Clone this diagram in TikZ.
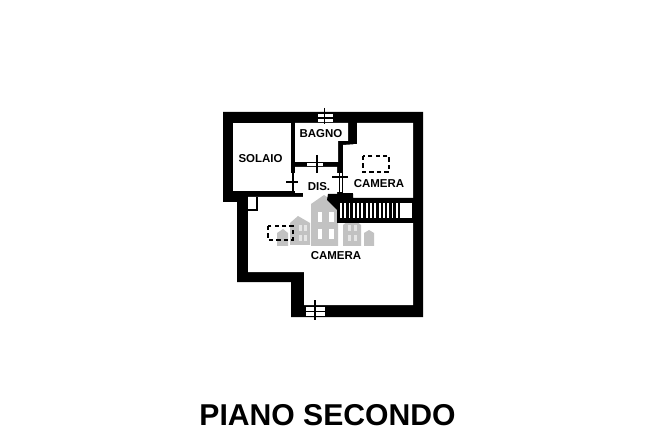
\documentclass[tikz,border=0pt]{standalone}
\usepackage{fontspec}
\setmainfont{Liberation Sans}
\tikzset{
  room/.style={fill=white},
  wall/.style={fill=black},
  house/.style={fill=black!24},
  pane/.style={fill=white},
  softpane/.style={fill=black!10},
  hatch/.style={black,line width=1pt},
  tread/.style={black,line width=1.8pt},
  skylight/.style={black,line width=1.2pt,dash pattern=on 3.2pt off 2.4pt},
  roomlabel/.style={font=\bfseries\fontsize{8.6}{10}\selectfont},
}
\begin{document}
\begin{tikzpicture}[x=0.75pt,y=0.75pt]
\tikzstyle{every node}+=[inner sep=0pt]
\useasboundingbox (0,0) rectangle (650,-442);
\fill [white] (0,0) rectangle (650,-442);
% outer walls
\fill [wall] (223,-112) -- (423,-112) -- (423,-317) -- (291,-317) -- (291,-282) -- (237,-282) -- (237,-202) -- (223,-202) -- cycle;
% rooms
\fill [room] (233,-123) -- (291,-123) -- (291,-191) -- (233,-191) -- cycle;
\fill [room] (295,-123) -- (348,-123) -- (348,-141) -- (338,-141) -- (338,-162) -- (295,-162) -- cycle;
\fill [room] (357,-123) -- (413,-123) -- (413,-198) -- (353,-198) -- (353,-193) -- (343,-193) -- (343,-145) -- (357,-144) -- cycle;
\fill [room] (295,-167) -- (337,-167) -- (337,-223) -- (413,-223) -- (413,-305) -- (304,-305) -- (304,-272) -- (248,-272) -- (248,-197) -- (303,-197) -- (303,-193) -- (295,-193) -- cycle;
% watermark
\fill [house] (290,-245) -- (290,-223) -- (298,-216) -- (310,-223) -- (310,-245) -- cycle;
\fill [house] (277,-246) -- (277,-233) -- (283,-229) -- (288,-233) -- (288,-246) -- cycle;
\fill [house] (311,-246) -- (311,-204) -- (324,-195) -- (338,-204) -- (338,-246) -- cycle;
\fill [house] (343,-246) -- (343,-225) -- (352,-218) -- (361,-225) -- (361,-246) -- cycle;
\fill [house] (364,-246) -- (364,-233) -- (369,-230) -- (374,-233) -- (374,-246) -- cycle;
\fill [pane] (318,-212) rectangle (322,-222);
\fill [pane] (329,-212) rectangle (334,-222);
\fill [pane] (318,-229) rectangle (322,-239);
\fill [pane] (329,-229) rectangle (334,-239);
\fill [softpane] (299,-225) rectangle (302,-231);
\fill [softpane] (304,-225) rectangle (307,-231);
\fill [softpane] (299,-235) rectangle (302,-241);
\fill [softpane] (304,-235) rectangle (307,-241);
\fill [softpane] (348,-225) rectangle (351,-231);
\fill [softpane] (354,-225) rectangle (357,-231);
\fill [softpane] (348,-235) rectangle (351,-241);
\fill [softpane] (354,-235) rectangle (357,-241);
% stairs
\fill [wall] (328,-194) -- (353,-194) -- (353,-198) -- (413,-198) -- (413,-223) -- (337,-223) -- (337,-210) -- (327,-200) -- cycle;
\fill [room] (340,-203) rectangle (412,-218);
\draw [tread] (343,-203) -- (343,-218);
\draw [tread] (347.3,-203) -- (347.3,-218);
\draw [tread] (351.6,-203) -- (351.6,-218);
\draw [tread] (355.9,-203) -- (355.9,-218);
\draw [tread] (360.2,-203) -- (360.2,-218);
\draw [tread] (364.5,-203) -- (364.5,-218);
\draw [tread] (368.8,-203) -- (368.8,-218);
\draw [tread] (373.1,-203) -- (373.1,-218);
\draw [tread] (377.4,-203) -- (377.4,-218);
\draw [tread] (381.7,-203) -- (381.7,-218);
\draw [tread] (386,-203) -- (386,-218);
\draw [tread] (390.3,-203) -- (390.3,-218);
\draw [tread] (394.6,-203) -- (394.6,-218);
\draw [tread] (398.9,-203) -- (398.9,-218);
% top window
\fill [room] (318,-114) rectangle (333,-122);
\draw [hatch] (318,-118) -- (333,-118);
\draw [hatch] (324.5,-108) -- (324.5,-124);
% bagno door
\fill [room] (307,-163) rectangle (323,-166);
\draw [hatch] (317,-155) -- (317,-173);
% solaio door
\fill [room] (291,-173) rectangle (295,-191);
\draw [hatch] (293,-173) -- (293,-191);
\draw [hatch] (286,-182) -- (298,-182);
% camera door
\fill [room] (337,-173) rectangle (342,-192);
\draw [hatch] (339.5,-173) -- (339.5,-192);
\draw [hatch] (332,-177) -- (348,-177);
% bottom window
\fill [room] (306,-307) rectangle (325,-316);
\draw [hatch] (306,-311.5) -- (325,-311.5);
\draw [hatch] (315,-300) -- (315,-320);
% small door
\draw [black,line width=0.8pt] (257,-197) -- (257,-210) -- (248,-210);
% skylights
\draw [skylight] (363,-156) rectangle (389,-172);
\draw [skylight] (268,-226) rectangle (293,-240);
% labels
\node [roomlabel] (bagno) at (321,-134) {BAGNO};
\node [roomlabel] (solaio) at (260.5,-159) {SOLAIO};
\node [roomlabel] (dis) at (319,-187) {DIS.};
\node [roomlabel] (cameraup) at (379,-184) {CAMERA};
\node [roomlabel] (cameradown) at (336,-256) {CAMERA};
\node [font=\bfseries\fontsize{22.6}{26}\selectfont] (titolo) at (327.5,-415) {PIANO SECONDO};
\end{tikzpicture}
\end{document}
